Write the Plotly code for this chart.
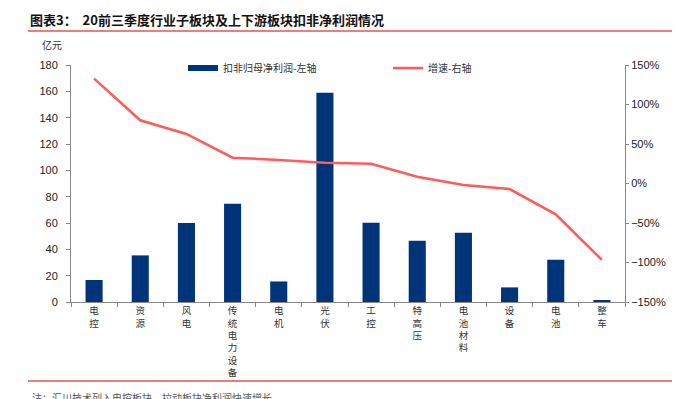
import plotly.graph_objects as go

categories = ["电控", "资源", "风电", "传统电力设备", "电机", "光伏", "工控", "特高压", "电池材料", "设备", "电池", "整车"]
profit = [16.7, 35.4, 60.0, 74.6, 15.6, 158.9, 60.2, 46.5, 52.6, 11.1, 32.1, 1.0]
growth = [132.7, 80.0, 62.7, 32.7, 29.7, 26.3, 25.0, 8.6, -1.9, -7.0, -39.0, -96.8]

bar_name = "扣非归母净利润-左轴"
line_name = "增速-右轴"
title_text = "图表3：  20前三季度行业子板块及上下游板块扣非净利润情况"
unit_text = "亿元"
note_text = "注：汇川技术列入电控板块，拉动板块净利润快速增长"

labels = ["<br>".join(list(c)) for c in categories]

W, H = 691, 399
L, R, T, B = 71, 625, 65, 302
pw, ph = R - L, B - T

def px(x):
    return (x - L) / pw

def py(y):
    return (B - y) / ph

navy = "#003478"
red = "#FF5B5B"
cjk = "Noto Sans CJK SC"
latin = "Liberation Sans, Arial"

fig = go.Figure()
fig.add_trace(go.Bar(x=labels, y=profit, marker=dict(color=navy, line=dict(width=0)),
                     name=bar_name, showlegend=False, yaxis="y"))
fig.add_trace(go.Scatter(x=[None], y=[None], mode="lines", line=dict(color=navy, width=6),
                         name=bar_name, showlegend=True))
fig.add_trace(go.Scatter(x=labels, y=growth, mode="lines", line=dict(color=red, width=2.5),
                         name=line_name, yaxis="y2"))

fig.update_layout(
    width=W, height=H,
    margin=dict(l=L, r=W - R, t=T, b=H - B, autoexpand=False),
    paper_bgcolor="white", plot_bgcolor="white",
    bargap=0.63,
    font=dict(family=latin, size=11, color="#222"),
    title=dict(text="<b>" + title_text + "</b>", x=30 / W, xanchor="left", xref="container",
               y=1 - 20 / H, yanchor="middle", yref="container",
               font=dict(family=cjk, size=13, color="#111")),
    xaxis=dict(type="category", showline=True, linecolor="#888", linewidth=1,
               ticks="outside", ticklen=4, tickcolor="#888", tickson="boundaries",
               tickfont=dict(family=cjk, size=9.5, color="#333"), tickangle=0,
               showgrid=False, zeroline=False, automargin=False),
    yaxis=dict(range=[0, 180], dtick=20, showline=True, linecolor="#888", linewidth=1,
               ticks="outside", ticklen=4, tickcolor="#888", showgrid=False, zeroline=False,
               ticklabelstandoff=6, automargin=False,
               tickfont=dict(family=latin, size=11, color="#222")),
    yaxis2=dict(range=[-150, 150], dtick=50, ticksuffix="%", overlaying="y", side="right",
                showline=True, linecolor="#888", linewidth=1, ticks="outside", ticklen=3,
                tickcolor="#888", showgrid=False, zeroline=False, automargin=False,
                tickfont=dict(family=latin, size=11, color="#222")),
    legend=dict(orientation="h", x=px(183), xanchor="left", y=py(68), yanchor="middle",
                entrywidth=160, entrywidthmode="pixels", bgcolor="rgba(0,0,0,0)",
                font=dict(family=cjk, size=10, color="#333"), traceorder="normal"),
    shapes=[
        dict(type="line", xref="paper", yref="paper", x0=px(28), x1=px(672), y0=py(31), y1=py(31),
             line=dict(color="#E8534F", width=1.5)),
        dict(type="line", xref="paper", yref="paper", x0=px(28), x1=px(672), y0=py(381), y1=py(381),
             line=dict(color="#E8534F", width=1.5)),
    ],
    annotations=[
        dict(text=unit_text, xref="paper", yref="paper", x=px(52), y=py(45), xanchor="center",
             yanchor="middle", showarrow=False, font=dict(family=cjk, size=10, color="#333")),
        dict(text=note_text, xref="paper", yref="paper", x=px(30), y=py(397), xanchor="left",
             yanchor="middle", showarrow=False, font=dict(family=cjk, size=10, color="#555")),
    ],
)

fig.write_html("out.html", config={"displayModeBar": False},
               post_script="document.body.style.margin='0';document.body.style.overflow='hidden';")
